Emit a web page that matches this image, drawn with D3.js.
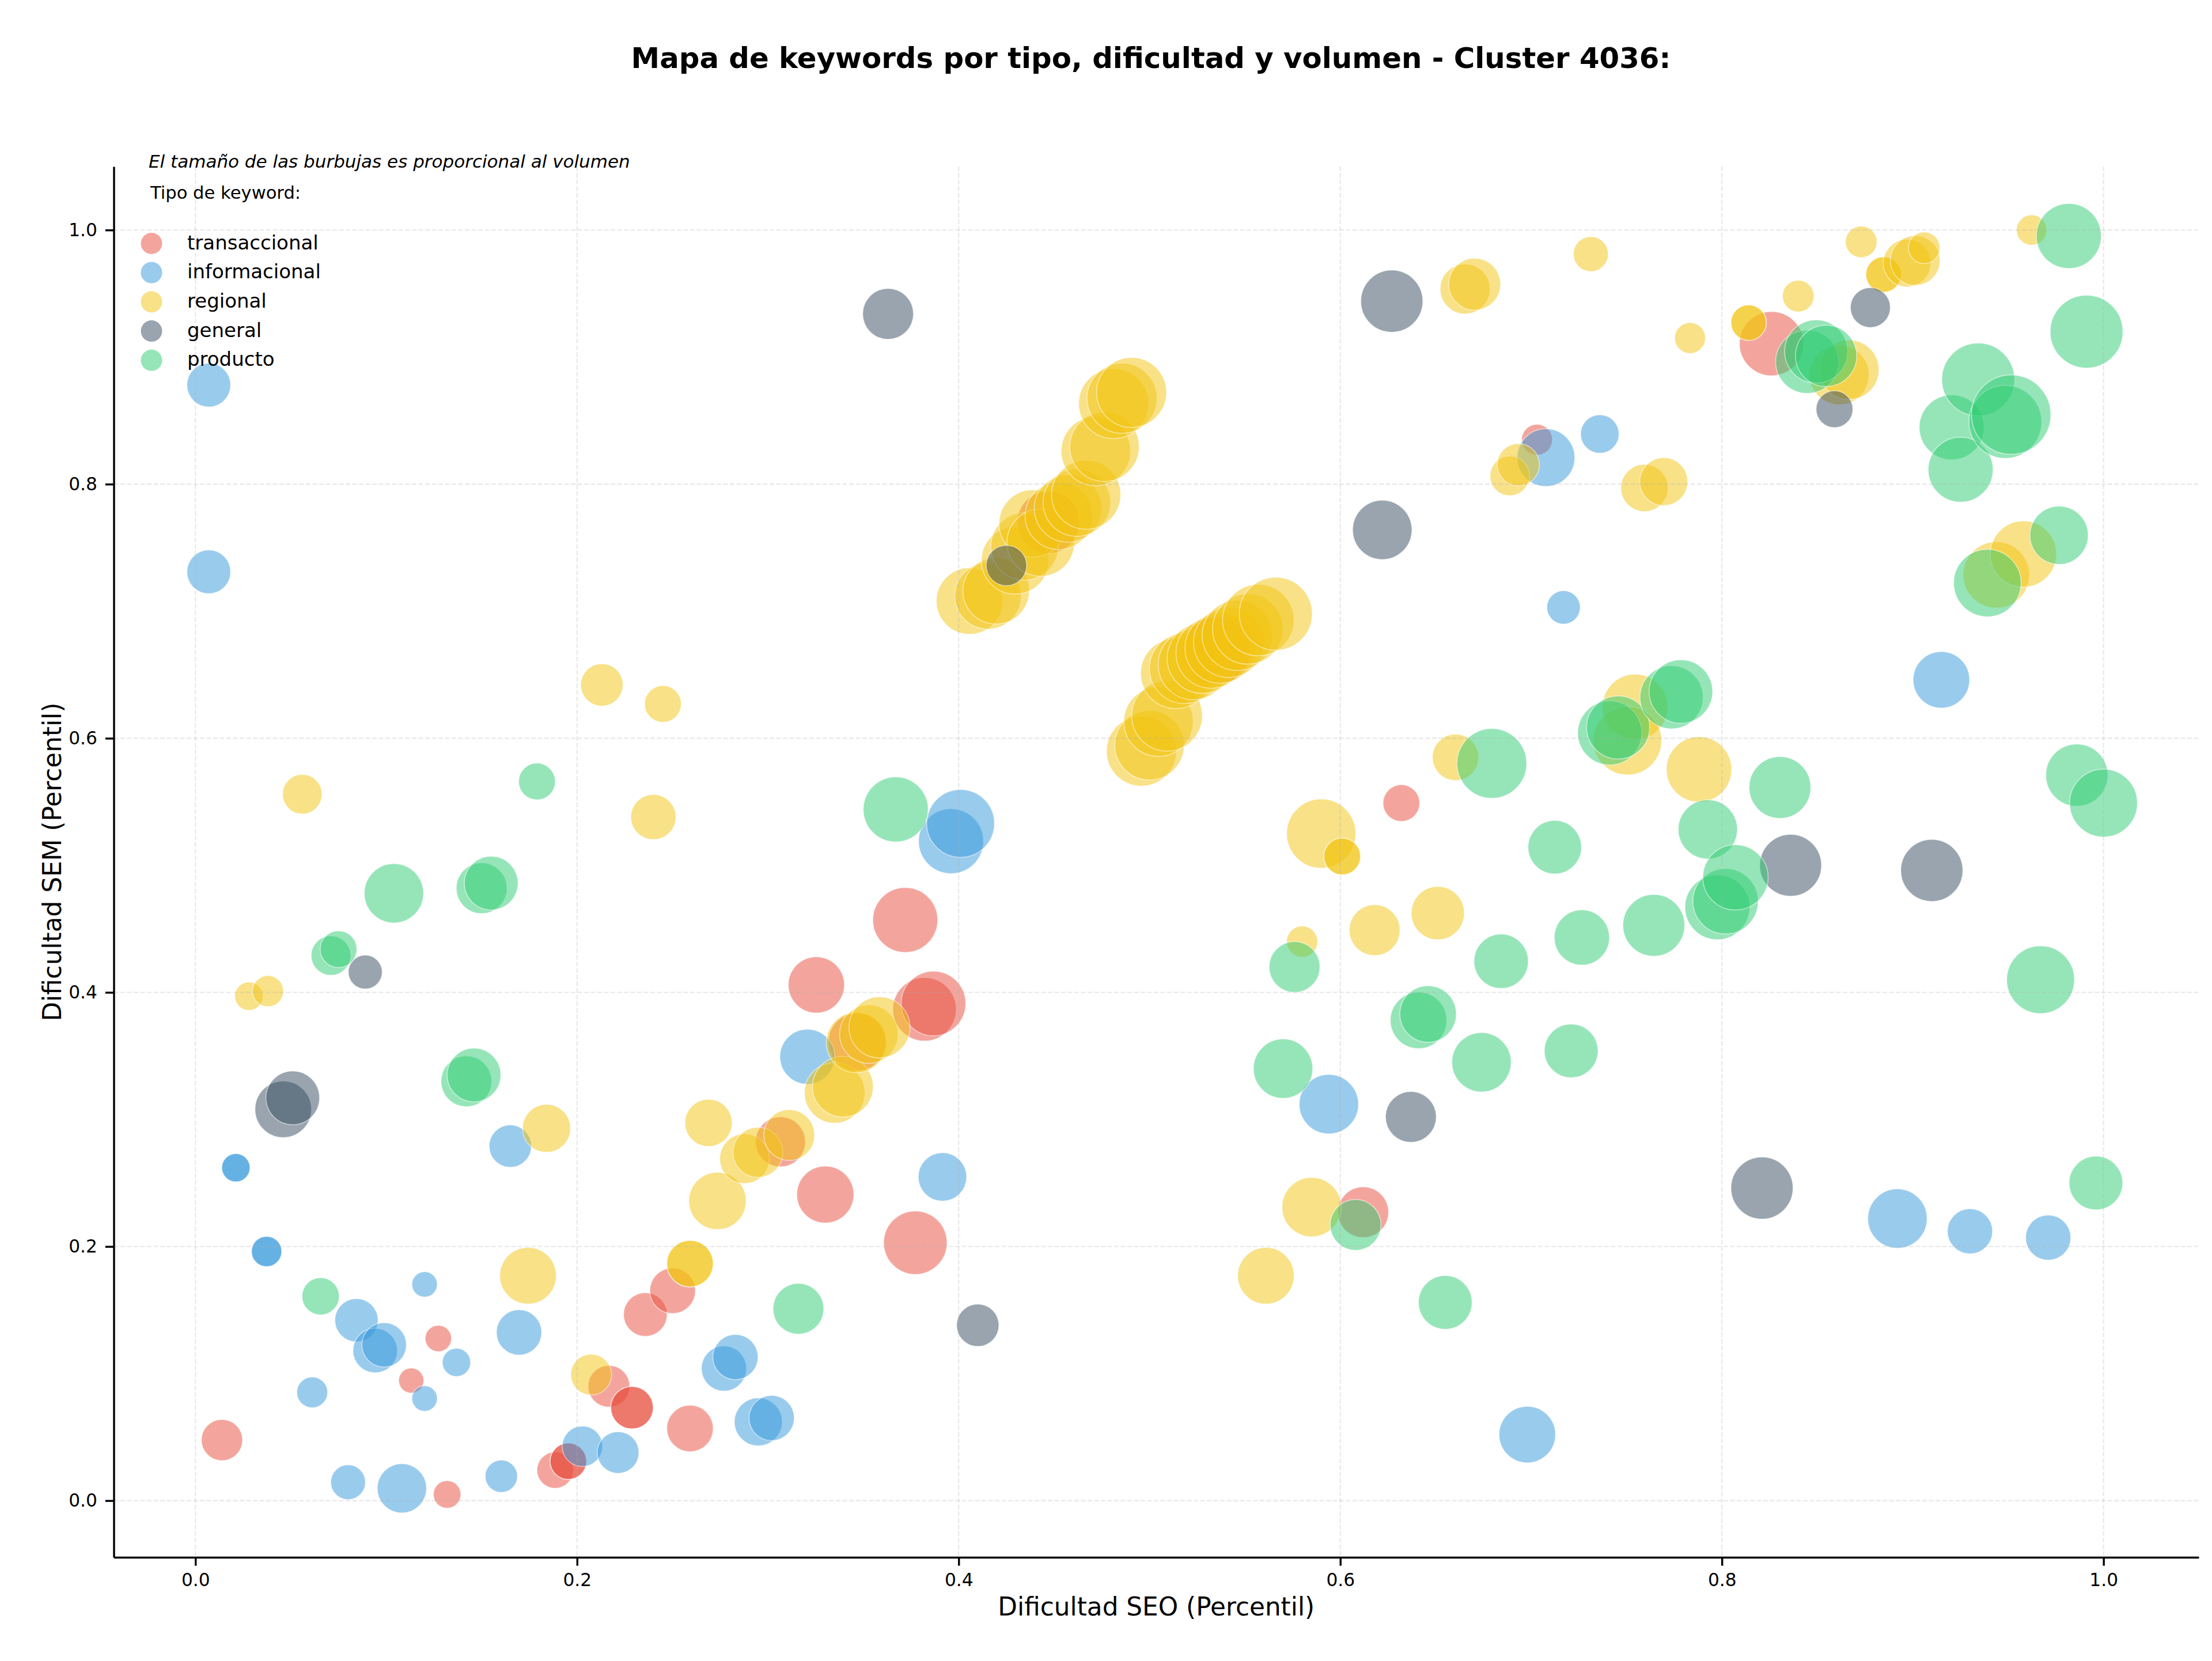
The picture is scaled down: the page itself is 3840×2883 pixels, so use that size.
<!DOCTYPE html>
<html><head><meta charset="utf-8">
<script src="https://cdnjs.cloudflare.com/ajax/libs/d3/7.8.5/d3.min.js"></script>
<style>html,body{margin:0;padding:0;background:#fff}svg{display:block}text{font-family:"DejaVu Sans",sans-serif;fill:#000}</style>
</head><body><svg id="chart"></svg>
<script>
// Each keyword: [dificultad SEO, dificultad SEM, volumen]
const transaccional = [
[.0139,.0477,213],[.1131,.0945,79],[.1273,.1276,87],[.1319,.0049,95],[.1885,.024,166],[.1954,.031,166],[.1954,.031,166],
[.2167,.09,218],[.2288,.0732,226],[.2288,.0732,226],[.2358,.1465,239],[.2501,.1652,262],[.2592,.0568,271],[.3066,.2824,313],
[.3301,.2409,408],[.3254,.4059,395],[.3468,.361,417],[.372,.457,529],[.3773,.203,504],[.3821,.3867,504],[.3868,.3913,523],
[.447,.77,484],[.535,.669,576],[.612,.227,324],[.632,.549,169],[.7031,.835,119],[.826,.9106,517]];
const informacional = [
[.007,.878,240],[.007,.731,240],[.0212,.262,100],[.0212,.262,100],[.0373,.1961,115],[.0373,.1961,115],[.0612,.0852,119],
[.0844,.142,234],[.0942,.1181,248],[.0989,.1226,248],[.08,.0145,151],[.1082,.0097,305],[.1201,.1702,81],[.1201,.0804,81],
[.1368,.1088,100],[.1603,.0192,131],[.1696,.1324,257],[.165,.279,225],[.2028,.0428,205],[.2215,.0379,218],[.277,.104,256],
[.283,.113,256],[.295,.062,289],[.302,.065,256],[.3207,.3494,379],[.3915,.2548,294],[.396,.519,529],[.401,.533,576],
[.594,.312,441],[.698,.052,400],[.7078,.8209,417],[.736,.8395,185],[.717,.703,140],[.892,.222,441],[.93,.212,256],
[.971,.207,256],[.915,.646,400]];
const regional = [
[.028,.397,100],[.038,.401,121],[.056,.556,196],[.213,.642,225],[.245,.627,169],[.24,.538,256],[.184,.293,289],
[.1743,.177,401],[.2074,.0992,209],[.2592,.1865,271],[.2592,.1865,271],[.2689,.2973,280],[.2736,.2359,411],[.2878,.2691,310],
[.2948,.2741,313],[.3112,.2877,323],[.335,.3209,457],[.3393,.3258,462],[.3464,.3606,457],[.3529,.3671,428],[.3585,.3725,468],
[.4057,.708,553],[.4153,.712,553],[.4196,.716,553],[.4296,.74,570],[.4345,.751,570],[.4388,.769,570],[.443,.754,570],
[.4525,.775,570],[.4573,.7808,570],[.4619,.7855,570],[.4668,.7917,600],[.4719,.826,604],[.4764,.8294,604],
[.4812,.8634,614],[.4856,.8676,614],[.4906,.8722,614],
[.4958,.5899,614],[.5,.5945,604],[.5047,.6131,604],[.5092,.6177,625],[.5138,.651,620],[.5184,.655,620],[.523,.658,620],
[.5277,.663,620],[.5323,.667,620],[.537,.671,620],[.5415,.6755,620],[.546,.681,620],[.5515,.686,620],[.557,.693,640],[.5662,.698,667],
[.58,.44,121],[.561,.177,400],[.585,.231,441],[.59,.525,600],[.601,.507,169],[.601,.507,169],[.618,.449,324],[.6511,.4624,353],
[.6604,.585,269],[.6654,.9536,313],[.6704,.9574,338],[.6888,.8065,196],[.6933,.8153,224],[.7313,.9811,153],[.7594,.797,280],[.7695,.802,289],
[.7545,.6247,535],[.7505,.5981,587],[.788,.5755,535],[.7833,.915,119],[.814,.9271,157],[.814,.9271,157],[.84,.948,125],
[.8615,.886,445],[.8667,.89,445],[.873,.9907,125],[.8847,.965,157],[.8847,.965,157],[.897,.974,285],[.9013,.976,310],[.906,.986,125],
[.9623,1.0,115],[.9438,.7286,550],[.958,.745,550]];
const general = [
[.046,.308,400],[.051,.317,361],[.089,.416,144],[.363,.934,324],[.41,.138,225],[.425,.736,205],[.622,.764,441],
[.627,.944,484],[.637,.302,324],[.821,.246,484],[.836,.5,479],[.859,.859,170],[.8778,.939,200],[.91,.496,484]];
const producto = [
[.0656,.1608,174],[.071,.429,196],[.075,.434,169],[.104,.478,441],[.142,.33,324],[.146,.335,361],[.15,.482,324],[.155,.486,361],
[.179,.566,169],[.316,.151,324],[.367,.544,529],[.57,.34,441],[.576,.42,324],[.608,.217,324],[.641,.378,400],[.646,.383,400],
[.655,.156,361],[.674,.345,441],[.6794,.5802,610],[.6843,.4245,370],[.7124,.5143,358],[.721,.354,361],[.7266,.4432,382],[.7412,.6042,514],
[.7456,.6085,499],[.7643,.4528,479],[.7736,.6323,500],[.7785,.6368,506],[.7926,.5283,439],[.7976,.467,528],[.8019,.4717,535],[.8071,.4905,535],
[.8304,.5613,479],[.8447,.8963,500],[.8494,.9044,500],[.8546,.901,470],[.9204,.8447,528],[.9251,.8114,528],[.9343,.8824,665],
[.9391,.7222,570],[.9485,.849,665],[.9516,.8547,790],[.967,.41,576],[.9767,.7598,425],[.9818,.9953,528],[.986,.571,484],
[.9911,.92,665],[.996,.25,361],[1.0,.549,576]];

const seriesNames = ["transaccional","informacional","regional","general","producto"];
const seriesData = [transaccional, informacional, regional, general, producto];
const seriesColors = ["#e74c3c","#3498db","#f1c40f","#34495e","#2ecc71"];
const xTicks = [0,.2,.4,.6,.8,1];
const yTicks = [0,.2,.4,.6,.8,1];
const titleText = "Mapa de keywords por tipo, dificultad y volumen - Cluster 4036:";
const noteText = "El tamaño de las burbujas es proporcional al volumen";
const legendTitle = "Tipo de keyword:";
const xLabel = "Dificultad SEO (Percentil)";
const yLabel = "Dificultad SEM (Percentil)";

const W = 3840, H = 2883;
const svg = d3.select("#chart").attr("width", W).attr("height", H).attr("viewBox", `0 0 ${W} ${H}`);
const plot = {left:197.5, right:3817, top:289, bottom:2703};
const x = d3.scaleLinear().domain([-.0428,1.0499]).range([plot.left,plot.right]);
const y = d3.scaleLinear().domain([-.0446,1.05]).range([plot.bottom,plot.top]);
const r = d3.scaleSqrt().domain([0,900]).range([0,73.5]);

// Bubbles, one group per keyword type
seriesData.forEach((pts,i)=>{
  svg.append("g").selectAll("circle").data(pts).join("circle")
    .attr("cx",d=>x(d[0])).attr("cy",d=>y(d[1])).attr("r",d=>r(d[2]))
    .attr("fill",seriesColors[i]).attr("fill-opacity",.5)
    .attr("stroke","#fff").attr("stroke-opacity",.55).attr("stroke-width",1.5);
});

// Dashed grid above the bubbles
const grid = svg.append("g").attr("stroke","#b0b0b0").attr("stroke-opacity",.3)
  .attr("stroke-width",2.1).attr("stroke-dasharray","8 3.5");
grid.selectAll(".gx").data(xTicks).join("line").attr("class","gx")
  .attr("x1",d=>x(d)).attr("x2",d=>x(d)).attr("y1",plot.top).attr("y2",plot.bottom);
grid.selectAll(".gy").data(yTicks).join("line").attr("class","gy")
  .attr("y1",d=>y(d)).attr("y2",d=>y(d)).attr("x1",plot.left).attr("x2",plot.right);

// Axes with top and right spines removed
const styleAxis = g=>{
  g.selectAll("path").attr("stroke","#000").attr("stroke-width",3.4);
  g.selectAll("line").attr("stroke","#000").attr("stroke-width",3.4);
  g.selectAll("text").attr("font-size",31.25).attr("font-family","DejaVu Sans").attr("fill","#000");
};
svg.append("g").attr("transform",`translate(0,${plot.bottom})`)
  .call(d3.axisBottom(x).tickValues(xTicks).tickFormat(d3.format(".1f")).tickSize(14.6).tickPadding(13).tickSizeOuter(0))
  .call(styleAxis);
svg.append("g").attr("transform",`translate(${plot.left},0)`)
  .call(d3.axisLeft(y).tickValues(yTicks).tickFormat(d3.format(".1f")).tickSize(14.6).tickPadding(14).tickSizeOuter(0))
  .call(styleAxis);

svg.append("text").attr("x",1998).attr("y",118).attr("text-anchor","middle")
  .attr("font-size",49.8).attr("font-weight","bold").text(titleText);
svg.append("text").attr("x",(plot.left+plot.right)/2).attr("y",2804).attr("text-anchor","middle")
  .attr("font-size",43.75).text(xLabel);
svg.append("text").attr("transform",`translate(106,${(plot.top+plot.bottom)/2}) rotate(-90)`)
  .attr("text-anchor","middle").attr("font-size",43.75).text(yLabel);

// Note and legend
svg.append("text").attr("x",258).attr("y",291).attr("font-size",31).attr("font-style","italic").text(noteText);
svg.append("text").attr("x",261).attr("y",345).attr("font-size",30.6).text(legendTitle);
const legend = svg.append("g").selectAll("g").data(seriesNames).join("g")
  .attr("transform",(d,i)=>`translate(263,${422.5+i*50.7})`);
legend.append("circle").attr("r",18.5).attr("fill",(d,i)=>seriesColors[i]).attr("fill-opacity",.5);
legend.append("text").attr("x",62).attr("y",10).attr("font-size",34).text(d=>d);
</script></body></html>
